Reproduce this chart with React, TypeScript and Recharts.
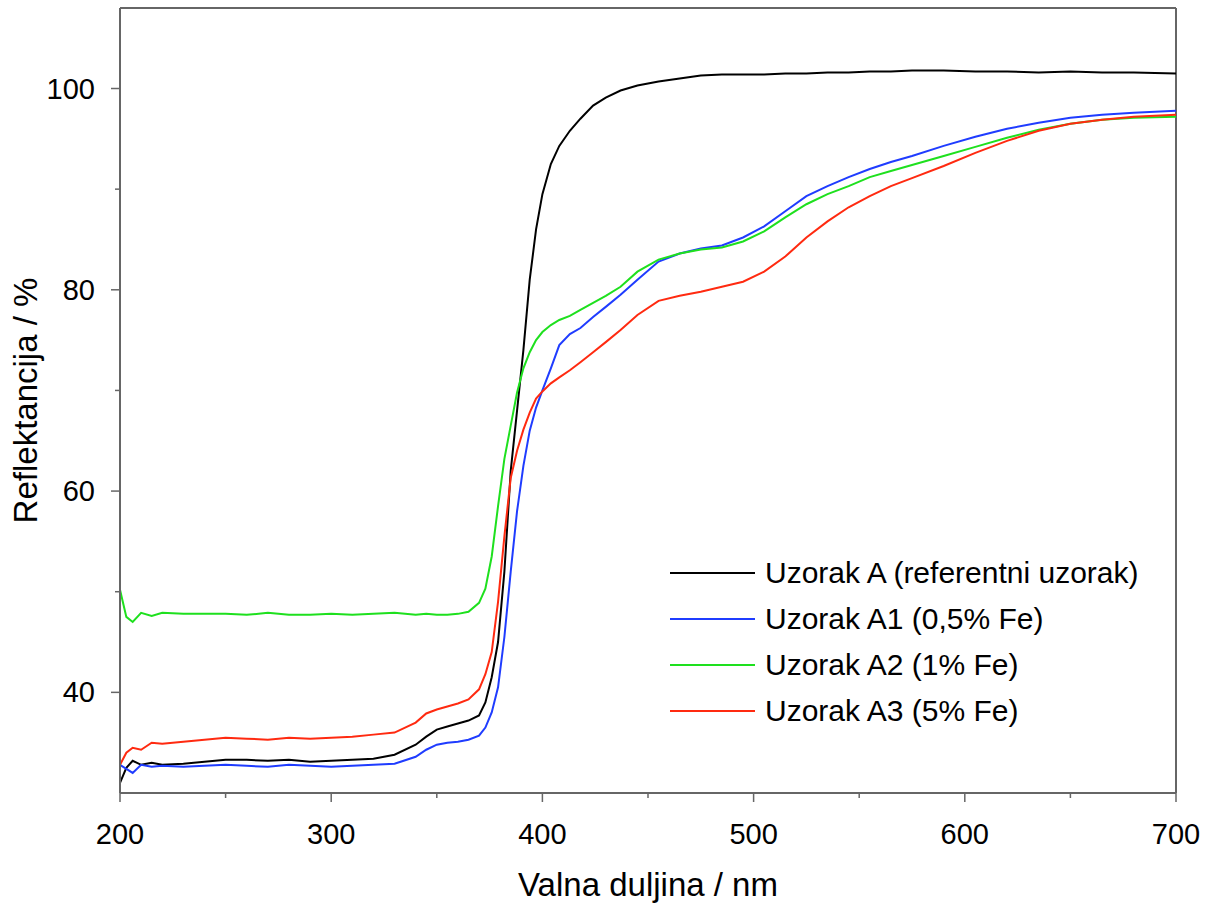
import React from 'react';
import {
  LineChart,
  Line,
  XAxis,
  YAxis,
  Legend,
  ReferenceLine,
} from 'recharts';

// wavelength grid (nm)
const wavelength = [
  200, 203, 206, 210, 215, 220, 230, 240, 250, 260, 270, 280, 290, 300, 310, 320, 330, 340, 345, 350,
  355, 360, 365, 370, 373, 376, 379, 382, 385, 388, 391, 394, 397, 400, 404, 408, 413, 418, 424, 430,
  437, 445, 455, 465, 475, 485, 495, 505, 515, 525, 535, 545, 555, 565, 575, 590, 605, 620, 635, 650,
  665, 680, 700,
];

// reflectance (%)
const uzorakA = [
  31.0, 32.5, 33.2, 32.8, 33.0, 32.8, 32.9, 33.1, 33.3, 33.3, 33.2, 33.3, 33.1, 33.2, 33.3, 33.4, 33.8, 34.8, 35.6, 36.3,
  36.6, 36.9, 37.2, 37.7, 39.0, 41.5, 45.0, 52.0, 62.0, 68.0, 74.0, 81.0, 86.0, 89.5, 92.5, 94.3, 95.8, 97.0, 98.3, 99.1,
  99.8, 100.3, 100.7, 101.0, 101.3, 101.4, 101.4, 101.4, 101.5, 101.5, 101.6, 101.6, 101.7, 101.7, 101.8, 101.8, 101.7, 101.7, 101.6, 101.7,
  101.6, 101.6, 101.5,
];
const uzorakA1 = [
  32.8, 32.4, 32.0, 32.8, 32.6, 32.7, 32.6, 32.7, 32.8, 32.7, 32.6, 32.8, 32.7, 32.6, 32.7, 32.8, 32.9, 33.6, 34.3, 34.8,
  35.0, 35.1, 35.3, 35.7, 36.5, 38.0, 40.5, 45.5, 52.0, 58.0, 62.5, 66.0, 68.3, 70.0, 72.2, 74.5, 75.6, 76.2, 77.3, 78.3,
  79.5, 81.0, 82.8, 83.6, 84.1, 84.4, 85.2, 86.3, 87.8, 89.3, 90.3, 91.2, 92.0, 92.7, 93.3, 94.3, 95.2, 96.0, 96.6, 97.1,
  97.4, 97.6, 97.8,
];
const uzorakA2 = [
  50.2, 47.5, 47.0, 47.9, 47.6, 47.9, 47.8, 47.8, 47.8, 47.7, 47.9, 47.7, 47.7, 47.8, 47.7, 47.8, 47.9, 47.7, 47.8, 47.7,
  47.7, 47.8, 48.0, 48.9, 50.3, 53.5, 58.5, 63.2, 66.5, 69.8, 72.2, 73.8, 75.0, 75.8, 76.5, 77.0, 77.4, 78.0, 78.7, 79.4,
  80.3, 81.8, 83.0, 83.6, 84.0, 84.2, 84.8, 85.8, 87.2, 88.5, 89.5, 90.3, 91.2, 91.8, 92.4, 93.3, 94.2, 95.1, 95.9, 96.5,
  96.9, 97.1, 97.2,
];
const uzorakA3 = [
  32.8, 34.0, 34.5, 34.3, 35.0, 34.9, 35.1, 35.3, 35.5, 35.4, 35.3, 35.5, 35.4, 35.5, 35.6, 35.8, 36.0, 37.0, 37.9, 38.3,
  38.6, 38.9, 39.3, 40.3, 41.8, 44.0, 49.0, 55.5, 61.3, 64.0, 66.1, 67.8, 69.2, 69.9, 70.7, 71.3, 72.0, 72.8, 73.8, 74.8,
  76.0, 77.5, 78.9, 79.4, 79.8, 80.3, 80.8, 81.8, 83.3, 85.2, 86.8, 88.2, 89.3, 90.3, 91.1, 92.3, 93.6, 94.8, 95.8, 96.5,
  96.9, 97.2, 97.4,
];

const xTicks = [200, 250, 300, 350, 400, 450, 500, 550, 600, 650, 700];
const yTicks = [40, 50, 60, 70, 80, 90, 100];

const data = wavelength.map((nm, i) => ({
  nm,
  a: uzorakA[i],
  a1: uzorakA1[i],
  a2: uzorakA2[i],
  a3: uzorakA3[i],
}));

const FONT = '"Liberation Sans", Arial, sans-serif';
const AXIS = '#666';

const XTick = (props: any) => {
  const { x, y, payload } = props;
  const major = payload.value % 100 === 0;
  return (
    <g>
      <line x1={x} x2={x} y1={y} y2={y + (major ? 9 : 5)} stroke={AXIS} strokeWidth={1.5} />
      {major && (
        <text x={x} y={y + 51} textAnchor="middle" fontSize={29} fontFamily={FONT} fill="#000">
          {payload.value}
        </text>
      )}
    </g>
  );
};

const YTick = (props: any) => {
  const { x, y, payload } = props;
  const major = payload.value % 20 === 0;
  return (
    <g>
      <line x1={x} x2={x - (major ? 9 : 5)} y1={y} y2={y} stroke={AXIS} strokeWidth={1.5} />
      {major && (
        <text x={x - 25} y={y + 10} textAnchor="end" fontSize={29} fontFamily={FONT} fill="#000">
          {payload.value}
        </text>
      )}
    </g>
  );
};

const renderLegend = (props: any) => {
  const { payload } = props;
  return (
    <div style={{ fontFamily: FONT }}>
      {payload.map((entry: any) => (
        <div key={entry.value} style={{ display: 'flex', alignItems: 'center', height: 46 }}>
          <div style={{ width: 85, height: 2, background: entry.color }} />
          <span style={{ marginLeft: 10, fontSize: 30, lineHeight: 1, color: '#000', whiteSpace: 'nowrap' }}>
            {entry.value}
          </span>
        </div>
      ))}
    </div>
  );
};

const App: React.FC = () => {
  return (
    <div style={{ position: 'absolute', left: 0, top: 0, background: '#fff' }}>
      <LineChart width={1213} height={906} data={data} margin={{ top: 8, right: 37, left: 0, bottom: 0 }}>
        <XAxis
          dataKey="nm"
          type="number"
          domain={[200, 700]}
          ticks={xTicks}
          interval={0}
          height={113}
          tickSize={0}
          tickMargin={0}
          tickLine={false}
          axisLine={{ stroke: AXIS, strokeWidth: 2 }}
          tick={<XTick />}
          label={{ value: 'Valna duljina / nm', position: 'insideBottom', offset: 10, fontSize: 33, fontFamily: FONT, fill: '#000' }}
        />
        <YAxis
          type="number"
          domain={[30, 108]}
          ticks={yTicks}
          interval={0}
          width={120}
          tickSize={0}
          tickMargin={0}
          tickLine={false}
          axisLine={{ stroke: AXIS, strokeWidth: 2 }}
          tick={<YTick />}
          label={{ value: 'Reflektancija / %', angle: -90, position: 'insideLeft', offset: 25, fontSize: 33, fontFamily: FONT, fill: '#000', style: { textAnchor: 'middle' } }}
        />
        <ReferenceLine y={108} stroke={AXIS} strokeWidth={2} />
        <ReferenceLine x={700} stroke={AXIS} strokeWidth={2} />
        <Legend
          layout="horizontal"
          verticalAlign="middle"
          align="center"
          content={renderLegend}
          wrapperStyle={{ left: 670, top: 550, width: 500 }}
        />
        <Line name="Uzorak A (referentni uzorak)" dataKey="a" stroke="#000000" strokeWidth={2} dot={false} isAnimationActive={false} />
        <Line name="Uzorak A1 (0,5% Fe)" dataKey="a1" stroke="#1f3cff" strokeWidth={2} dot={false} isAnimationActive={false} />
        <Line name="Uzorak A2 (1% Fe)" dataKey="a2" stroke="#1ee01e" strokeWidth={2} dot={false} isAnimationActive={false} />
        <Line name="Uzorak A3 (5% Fe)" dataKey="a3" stroke="#ff2a10" strokeWidth={2} dot={false} isAnimationActive={false} />
      </LineChart>
    </div>
  );
};

export default App;
